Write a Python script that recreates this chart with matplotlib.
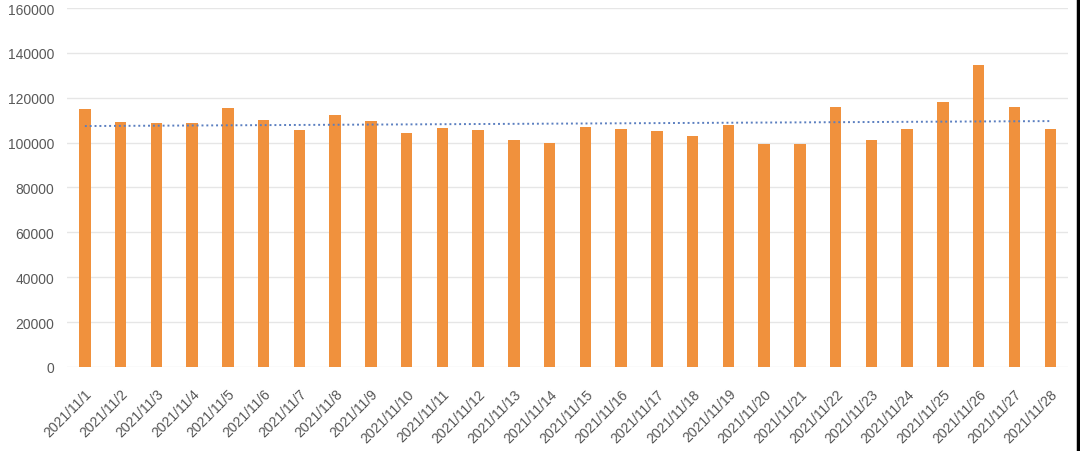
import numpy as np
import matplotlib.pyplot as plt
from matplotlib.lines import Line2D

# daily values
dates = ['2021/11/%d' % d for d in range(1, 29)]
values = [115000, 109200, 108600, 108600, 115400, 110200, 105800, 112400,
          109500, 104200, 106400, 105800, 101200, 99700, 106800, 105900,
          105300, 103100, 107900, 99400, 99400, 116000, 101200, 106100,
          118000, 134700, 116000, 106100]
yticks = [0, 20000, 40000, 60000, 80000, 100000, 120000, 140000, 160000]

plt.rcParams['font.family'] = ['Liberation Sans', 'DejaVu Sans']

fig = plt.figure(figsize=(10.8, 4.52), dpi=100)
ax = fig.add_axes([0.062, 0.186, 0.927, 0.794])

x = np.arange(len(dates))
ax.bar(x, values, width=0.32, color='#F0913D', zorder=3)

# linear trendline like Excel's
k, b = np.polyfit(x, values, 1)
ax.plot(x, k * x + b, linestyle=(0, (1, 1.5)), color='#5B7FC0', linewidth=1.4, zorder=4)

ax.set_xlim(-0.5, len(dates) - 0.5)
ax.set_ylim(0, 160000)
ax.set_yticks(yticks)
ax.set_yticklabels([str(v) for v in yticks], fontsize=10, color='#595959')
ax.set_xticks(x)
ax.set_xticklabels(dates, rotation=45, ha='right', rotation_mode='anchor',
                   fontsize=10, color='#555555')
ax.tick_params(length=0)
ax.tick_params(axis='y', pad=9)
ax.tick_params(axis='x', pad=14)
ax.grid(axis='y', color='#E6E6E6', linewidth=1, zorder=0)
for s in ax.spines.values():
    s.set_visible(False)

# dark border on the right edge of the picture
fig.add_artist(Line2D([0.9986, 0.9986], [0, 1], transform=fig.transFigure,
                      color='black', linewidth=2.5))

fig.savefig('out.png', dpi=100)
